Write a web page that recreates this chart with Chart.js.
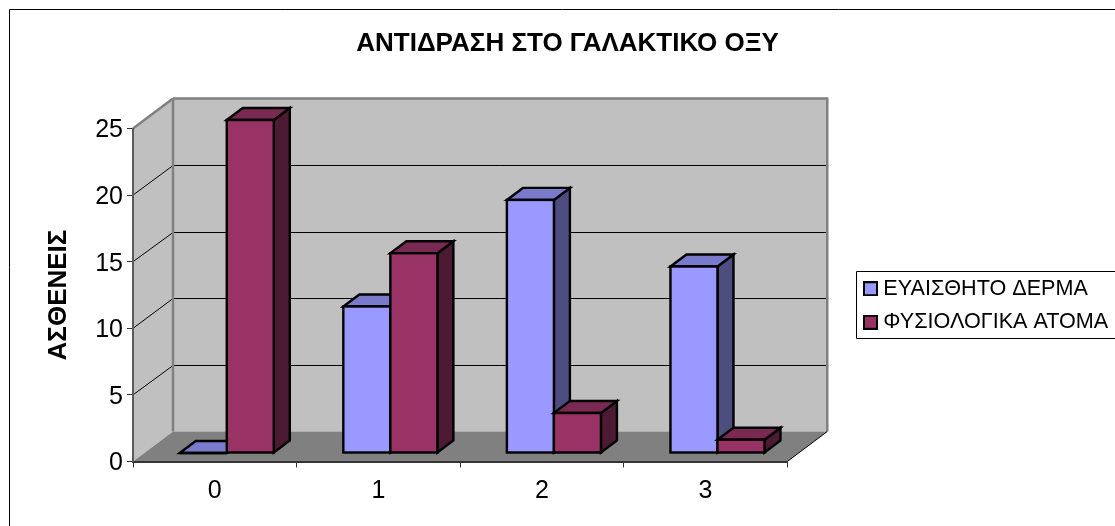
<!DOCTYPE html>
<html><head><meta charset="utf-8">
<style>html,body{margin:0;padding:0;background:#fff}canvas{display:block}</style>
<script src="https://cdn.jsdelivr.net/npm/chart.js@4"></script>
</head><body><canvas id="c" width="1115" height="526"></canvas>
<script>
const categories = ['0','1','2','3'];
const sensitiveSkin = [0,11,19,14];
const normalPeople = [25,15,3,1];
const seriesNames = ['ΕΥΑΙΣΘΗΤΟ ΔΕΡΜΑ','ΦΥΣΙΟΛΟΓΙΚΑ ΑΤΟΜΑ'];
const chartTitle = 'ΑΝΤΙΔΡΑΣΗ ΣΤΟ ΓΑΛΑΚΤΙΚΟ ΟΞΥ';
const yTitle = 'ΑΣΘΕΝΕΙΣ';
const FONT = '"Liberation Sans", Arial, sans-serif';
const palette = [
  {front:'#9999FF', side:'#4D4D80', top:'#7A7ACC'},
  {front:'#993366', side:'#4D1A33', top:'#7A2952'}
];
// projection of the 3-D box
const wall = {dx:40, dy:-30};     // front plane -> back wall
const barOff = {dx:12, dy:-8.5};  // front plane -> bar front
const barDepth = {dx:16, dy:-12}; // bar depth
const EDGE = 2.4;
const WALL_EDGE = 2.5;

function swatch(color){
  const c=document.createElement('canvas'); c.width=15; c.height=15;
  const x=c.getContext('2d');
  x.fillStyle=color; x.fillRect(1,1,13,13);
  x.strokeStyle='#000'; x.lineWidth=2; x.strokeRect(1,1,13,13);
  return c;
}
function poly(ctx,pts,fill,stroke,lw){
  ctx.beginPath(); pts.forEach((p,i)=>i?ctx.lineTo(p[0],p[1]):ctx.moveTo(p[0],p[1])); ctx.closePath();
  if(fill){ctx.fillStyle=fill;ctx.fill();}
  if(stroke){ctx.strokeStyle=stroke;ctx.lineWidth=lw;ctx.lineJoin='miter';ctx.stroke();}
}
function line(ctx,x1,y1,x2,y2,color,lw){
  ctx.beginPath();ctx.moveTo(x1,y1);ctx.lineTo(x2,y2);ctx.strokeStyle=color;ctx.lineWidth=lw;ctx.stroke();
}
const box3d = {
  id:'box3d',
  afterLayout(chart){
    chart.titleBlock.left=20; chart.titleBlock.right=1115;
    const l=chart.legend; const w=l.width;
    l.left=856.5; l.right=856.5+w; l.top=241; l.bottom=370;
  },
  beforeDraw(chart){
    const c=chart.ctx, a=chart.chartArea, ys=chart.scales.y;
    const {dx,dy}=wall;
    const L=a.left,R=a.right,T=ys.getPixelForValue(25),B=ys.getPixelForValue(0);
    // nudge the y tick labels down to sit on their tick marks
    const items=ys.getLabelItems();
    if(!items.nudged){ items.forEach(it=>{it.options.translation[1]+=2;}); items.nudged=true; }
    c.save();
    // frame of the chart object
    c.strokeStyle='#000';c.lineWidth=1;
    c.beginPath();c.moveTo(9.5,526);c.lineTo(9.5,9.5);c.lineTo(1115,9.5);c.stroke();
    // walls and floor
    poly(c,[[L,T],[L+dx,T+dy],[L+dx,B+dy],[L,B]],'#C0C0C0');
    poly(c,[[L+dx,T+dy],[R+dx,T+dy],[R+dx,B+dy],[L+dx,B+dy]],'#C0C0C0');
    poly(c,[[L,B],[L+dx,B+dy],[R+dx,B+dy],[R,B]],'#808080');
    // grid on the walls
    ys.ticks.forEach(t=>{
      if(t.value===0||t.value===25) return;
      const y=ys.getPixelForValue(t.value);
      const py=Math.round(y+dy)+0.5;
      line(c,L,y,L+dx,py,'#000',1);
      line(c,L+dx,py,R+dx,py,'#000',1);
    });
    // wall edges
    line(c,L,T,L+dx,T+dy,'#808080',WALL_EDGE);
    line(c,L+dx,T+dy,R+dx,T+dy,'#808080',WALL_EDGE);
    line(c,L+dx,T+dy,L+dx,B+dy,'#808080',WALL_EDGE);
    line(c,R+dx,T+dy-1,R+dx,B+dy,'#808080',WALL_EDGE);
    line(c,R,B,R+dx,B+dy,'#000',1);
    c.restore();
  },
  // the plugin paints series in data order, so the later series overlaps the earlier one's side face
  beforeDatasetDraw(){ return false; },
  afterDatasetsDraw(chart){
    const c=chart.ctx;
    chart.data.datasets.forEach((ds,i)=>{
      const meta=chart.getDatasetMeta(i), pal=palette[i];
      c.save();
      c.translate(barOff.dx,barOff.dy);
      meta.data.forEach(el=>{
        const p=el.getProps(['x','y','base','width'],true);
        const l=p.x-p.width/2,r=p.x+p.width/2,{dx,dy}=barDepth;
        poly(c,[[r,p.y],[r+dx,p.y+dy],[r+dx,p.base+dy],[r,p.base]],pal.side,'#000',EDGE);
        poly(c,[[l,p.y],[l+dx,p.y+dy],[r+dx,p.y+dy],[r,p.y]],pal.top,'#000',EDGE);
      });
      meta.controller.draw();
      meta.data.forEach(el=>{
        const p=el.getProps(['x','y','base','width'],true);
        c.strokeStyle='#000';c.lineWidth=EDGE;
        c.strokeRect(p.x-p.width/2,p.y,p.width,p.base-p.y);
      });
      c.restore();
    });
  },
  afterDraw(chart){
    const c=chart.ctx;
    c.save();c.strokeStyle='#000';c.lineWidth=1;
    c.beginPath();c.moveTo(1115,271.5);c.lineTo(856.5,271.5);c.lineTo(856.5,338.5);c.lineTo(1115,338.5);c.stroke();
    c.restore();
  }
};
new Chart(document.getElementById('c'),{
  type:'bar',
  data:{labels:categories,datasets:[
    {label:seriesNames[0],data:sensitiveSkin,backgroundColor:palette[0].front,borderWidth:0,clip:false},
    {label:seriesNames[1],data:normalPeople,backgroundColor:palette[1].front,borderWidth:0,clip:false}
  ]},
  plugins:[box3d],
  options:{
    responsive:false,animation:false,devicePixelRatio:1,
    categoryPercentage:0.575,barPercentage:1,
    layout:{padding:{left:0,right:66,top:0,bottom:0}},
    scales:{
      x:{grid:{offset:true,drawOnChartArea:false,drawTicks:true,tickLength:6,color:'#333',lineWidth:1},
         border:{color:'#333',width:2},
         ticks:{color:'#000',padding:9,font:{family:FONT,size:25},autoSkip:false,maxRotation:0},
         afterFit(s){s.height=64.5;}},
      y:{min:0,max:25,
         grid:{drawOnChartArea:false,drawTicks:true,tickLength:6,color:'#333',lineWidth:1},
         border:{color:'#5a5a5a',width:2},
         ticks:{stepSize:5,color:'#000',padding:4,font:{family:FONT,size:25}},
         title:{display:true,text:yTitle,color:'#000',font:{family:FONT,size:26,weight:'bold'},padding:{top:43,bottom:0}},
         afterFit(s){s.width=133;}}
    },
    plugins:{
      title:{display:true,text:chartTitle,color:'#000',font:{family:FONT,size:26,weight:'bold'},padding:{top:28,bottom:69.3}},
      tooltip:{enabled:false},
      legend:{position:'right',labels:{
        usePointStyle:true,boxWidth:4,boxHeight:4,color:'#000',padding:12,font:{family:FONT,size:21.6},
        generateLabels(){return seriesNames.map((t,i)=>({text:t,fontColor:'#000',pointStyle:swatch(palette[i].front),datasetIndex:i,hidden:false,lineWidth:0}));}
      }}
    }
  }
});
</script></body></html>
